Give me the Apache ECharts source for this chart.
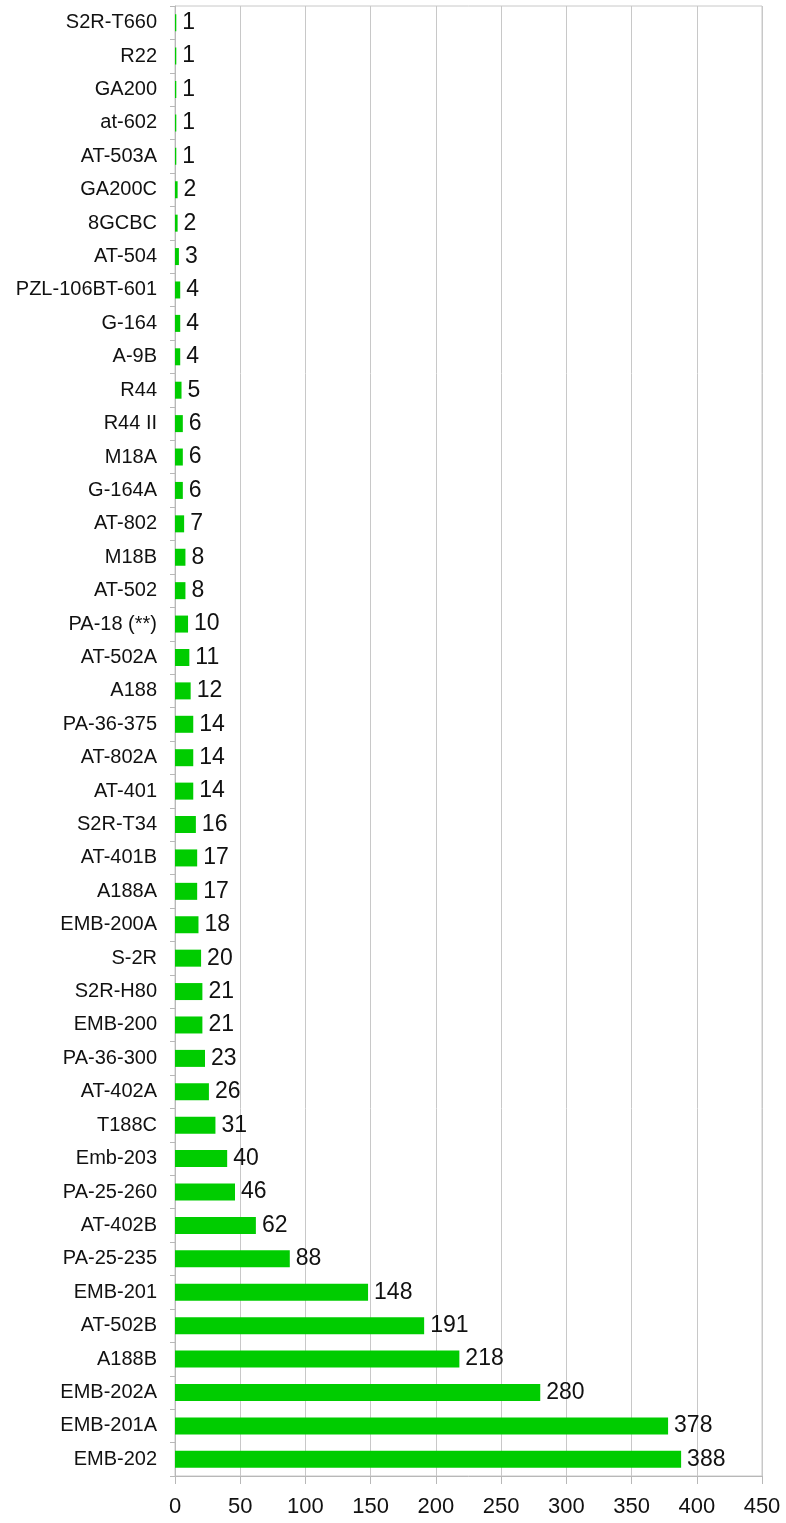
<!DOCTYPE html>
<html>
<head>
<meta charset="utf-8">
<script src="https://cdn.jsdelivr.net/npm/echarts@6/dist/echarts.min.js"></script>
<style>
  html, body { margin: 0; padding: 0; background: #fff; }
  #chart { width: 786px; height: 1523px; }
</style>
</head>
<body>
<div id="chart"></div>
<script>
// categories listed bottom -> top (category axis starts at the bottom)
const categories = [
  'EMB-202', 'EMB-201A', 'EMB-202A', 'A188B', 'AT-502B', 'EMB-201', 'PA-25-235',
  'AT-402B', 'PA-25-260', 'Emb-203', 'T188C', 'AT-402A', 'PA-36-300', 'EMB-200',
  'S2R-H80', 'S-2R', 'EMB-200A', 'A188A', 'AT-401B', 'S2R-T34', 'AT-401', 'AT-802A',
  'PA-36-375', 'A188', 'AT-502A', 'PA-18 (**)', 'AT-502', 'M18B', 'AT-802', 'G-164A',
  'M18A', 'R44 II', 'R44', 'A-9B', 'G-164', 'PZL-106BT-601', 'AT-504', '8GCBC',
  'GA200C', 'AT-503A', 'at-602', 'GA200', 'R22', 'S2R-T660'
];
const counts = [
  388, 378, 280, 218, 191, 148, 88,
  62, 46, 40, 31, 26, 23, 21,
  21, 20, 18, 17, 17, 16, 14, 14,
  14, 12, 11, 10, 8, 8, 7, 6,
  6, 6, 5, 4, 4, 4, 3, 2,
  2, 1, 1, 1, 1, 1
];
const xMax = 450;
const xStep = 50;

const font = 'Liberation Sans, Arial, sans-serif';
const chart = echarts.init(document.getElementById('chart'));

const option = {
  animation: false,
  grid: {
    left: 175,
    right: 24,
    top: 6,
    bottom: 47,
    show: true,
    borderColor: '#c8c8c8',
    borderWidth: 1
  },
  xAxis: {
    type: 'value',
    min: 0,
    max: xMax,
    interval: xStep,
    axisLine: { show: true, lineStyle: { color: '#b8b8b8' } },
    axisTick: { show: true, length: 8, lineStyle: { color: '#b8b8b8' } },
    splitLine: { show: true, lineStyle: { color: '#c8c8c8', width: 1 } },
    axisLabel: {
      color: '#111',
      fontFamily: font,
      fontSize: 22,
      margin: 20
    }
  },
  yAxis: {
    type: 'category',
    data: categories,
    axisLine: { show: true, lineStyle: { color: '#b8b8b8' } },
    axisTick: { show: true, length: 5, lineStyle: { color: '#b8b8b8' } },
    axisLabel: {
      color: '#111',
      fontFamily: font,
      fontSize: 20,
      margin: 18,
      interval: 0
    }
  },
  series: [{
    type: 'bar',
    data: counts,
    barWidth: 17,
    itemStyle: { color: '#00cc00' },
    label: {
      show: true,
      position: 'right',
      distance: 6,
      color: '#111',
      fontFamily: font,
      fontSize: 23
    }
  }]
};

chart.setOption(option);
</script>
</body>
</html>
